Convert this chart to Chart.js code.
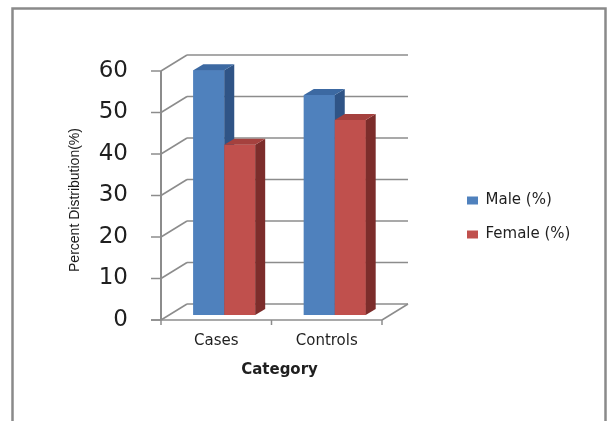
<!DOCTYPE html>
<html>
<head>
<meta charset="utf-8">
<script src="https://cdn.jsdelivr.net/npm/chart.js@4/dist/chart.umd.min.js"></script>
<style>
  html, body { margin: 0; padding: 0; background: #ffffff; }
  canvas { display: block; }
</style>
</head>
<body>
<canvas id="chart" width="608" height="421"></canvas>
<script>
// Data
const categories = ['Cases', 'Controls'];
const seriesNames = ['Male (%)', 'Female (%)'];
const maleValues = [59, 53];
const femaleValues = [41, 47];
const yTicks = [0, 10, 20, 30, 40, 50, 60];
const yAxisTitle = 'Percent Distribution(%)';
const xAxisTitle = 'Category';

// Face colours for the pseudo-3D columns: front, side, top
const palettes = [
  { front: '#4F81BD', side: '#2F5486', top: '#3C69A2' },
  { front: '#C0504D', side: '#7C2D2B', top: '#A5413E' }
];

// Depth offsets relative to the plane the columns stand in
const FRONT = { dx: -8, dy: 5 };
const BACK = { dx: 18, dy: -11 };
const COLUMN = { dx: 10, dy: -6 };
const LINE = '#8C8C8C';

function poly(ctx, pts, fill) {
  ctx.beginPath();
  ctx.moveTo(pts[0][0], pts[0][1]);
  for (let i = 1; i < pts.length; i++) ctx.lineTo(pts[i][0], pts[i][1]);
  ctx.closePath();
  ctx.fillStyle = fill;
  ctx.fill();
}

function line(ctx, x1, y1, x2, y2) {
  ctx.beginPath();
  ctx.moveTo(x1, y1);
  ctx.lineTo(x2, y2);
  ctx.stroke();
}

const box3d = {
  id: 'box3d',
  beforeDraw(chart) {
    const { ctx } = chart;
    ctx.save();
    ctx.fillStyle = '#ffffff';
    ctx.fillRect(0, 0, chart.width, chart.height);
    ctx.strokeStyle = '#8A8A8A';
    ctx.lineWidth = 2.5;
    ctx.strokeRect(12.5, 8.5, 593, 440);
    ctx.restore();
  },
  beforeDatasetsDraw(chart) {
    const { ctx, chartArea: a, scales: { y } } = chart;
    const fl = a.left + FRONT.dx, fr = a.right + FRONT.dx;
    const bl = a.left + BACK.dx, br = a.right + BACK.dx;
    ctx.save();
    ctx.strokeStyle = LINE;
    ctx.lineWidth = 1.5;
    // back wall gridlines, side diagonals and front tick marks
    y.ticks.forEach(t => {
      const py = y.getPixelForValue(t.value);
      const fy = py + FRONT.dy, by = py + BACK.dy;
      line(ctx, fl - 10, fy, fl, fy);
      line(ctx, fl, fy, bl, by);
      line(ctx, bl, by, br, by);
    });
    // floor: front edge and right diagonal
    const y0 = y.getPixelForValue(yTicks[0]);
    line(ctx, fl - 10, y0 + FRONT.dy, fr, y0 + FRONT.dy);
    line(ctx, fr, y0 + FRONT.dy, br, y0 + BACK.dy);
    // category separators on the floor edge
    const step = (a.right - a.left) / categories.length;
    for (let k = 0; k <= categories.length; k++) {
      const px = a.left + k * step + FRONT.dx;
      line(ctx, px, y0 + FRONT.dy, px, y0 + FRONT.dy + 5);
    }
    // front value axis
    ctx.lineWidth = 2;
    const yTop = y.getPixelForValue(yTicks[yTicks.length - 1]);
    line(ctx, fl, yTop + FRONT.dy, fl, y0 + FRONT.dy);
    ctx.restore();
  },
  afterDatasetsDraw(chart) {
    const { ctx } = chart;
    const metas = chart.data.datasets.map((_, i) => chart.getDatasetMeta(i));
    ctx.save();
    categories.forEach((_, idx) => {
      metas.forEach((meta, d) => {
        const bar = meta.data[idx];
        const top = bar.y, base = bar.base, w = bar.width;
        const l = bar.x - w / 2, r = bar.x + w / 2;
        const pal = palettes[d];
        ctx.fillStyle = pal.front;
        ctx.fillRect(l, top, w, base - top);
        poly(ctx, [[r, top], [r + COLUMN.dx, top + COLUMN.dy],
                   [r + COLUMN.dx, base + COLUMN.dy], [r, base]], pal.side);
        poly(ctx, [[l, top], [l + COLUMN.dx, top + COLUMN.dy],
                   [r + COLUMN.dx, top + COLUMN.dy], [r, top]], pal.top);
      });
    });
    ctx.restore();
  },
  afterDraw(chart) {
    const { ctx } = chart;
    ctx.save();
    ctx.translate(75, 200);
    ctx.rotate(-Math.PI / 2);
    ctx.font = '14px "Liberation Sans"';
    ctx.fillStyle = '#1A1A1A';
    ctx.textAlign = 'center';
    ctx.textBaseline = 'middle';
    ctx.fillText(yAxisTitle, 0, 0);
    ctx.restore();
  }
};

Chart.defaults.font.family = '"DejaVu Sans", sans-serif';
Chart.defaults.color = '#1F1F1F';

new Chart(document.getElementById('chart'), {
  type: 'bar',
  data: {
    labels: categories,
    datasets: [
      { label: seriesNames[0], data: maleValues, backgroundColor: palettes[0].front,
        categoryPercentage: 0.56, barPercentage: 1.0 },
      { label: seriesNames[1], data: femaleValues, backgroundColor: palettes[1].front,
        categoryPercentage: 0.56, barPercentage: 1.0 }
    ]
  },
  options: {
    responsive: false,
    animation: false,
    devicePixelRatio: 1,
    layout: { padding: { left: 10, top: 66, right: 30, bottom: 52 } },
    plugins: {
      legend: {
        position: 'right',
        align: 'center',
        maxWidth: 130,
        labels: {
          boxWidth: 11,
          boxHeight: 8,
          padding: 19,
          font: { size: 15 },
          color: '#1F1F1F'
        }
      },
      tooltip: { enabled: false }
    },
    scales: {
      x: {
        offset: true,
        grid: { display: false, drawTicks: false },
        border: { display: false },
        ticks: { font: { size: 15 }, padding: 17, labelOffset: FRONT.dx },
        title: {
          display: true,
          text: xAxisTitle,
          font: { size: 15, weight: 'bold' },
          padding: { top: 0, bottom: -10 }
        },
        afterFit(s) { s.height = 54; }
      },
      y: {
        min: yTicks[0],
        max: yTicks[yTicks.length - 1],
        afterBuildTicks(s) { s.ticks = yTicks.map(v => ({ value: v })); },
        grid: { display: false, drawTicks: false },
        border: { display: false },
        ticks: { font: { size: 23 }, padding: 41, labelOffset: FRONT.dy },
        afterFit(s) { s.width = 159; }
      },
      gap: {
        type: 'linear',
        position: 'right',
        display: true,
        grid: { display: false, drawTicks: false },
        border: { display: false },
        ticks: { display: false },
        afterFit(s) { s.width = 58; }
      }
    }
  },
  plugins: [box3d]
});
</script>
</body>
</html>
